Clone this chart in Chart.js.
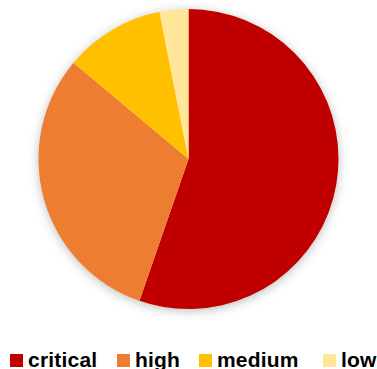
<!DOCTYPE html>
<html>
<head>
<meta charset="utf-8">
<script src="https://cdn.jsdelivr.net/npm/chart.js@4/dist/chart.umd.min.js"></script>
<style>
  html, body { margin: 0; padding: 0; background: #fff; overflow: hidden; }
  #wrap { position: relative; width: 377px; height: 320px; }
  #legend { position: absolute; left: 0; top: 348px; width: 377px; height: 21px; margin: 0; padding: 0;
    font: bold 21px "Liberation Sans", Arial, sans-serif; color: #000; white-space: nowrap; }
  #legend span.item { position: absolute; top: 0; line-height: 24px; letter-spacing: 0.2px; }
  #legend i { display: inline-block; width: 13px; height: 13px; margin-right: 5px; vertical-align: 0; }
</style>
</head>
<body>
<div id="wrap"><canvas id="chart"></canvas></div>
<div id="legend"></div>
<script>
// severity breakdown, percent of findings
const labels = ['critical', 'high', 'medium', 'low']
const values = [55.3, 30.8, 10.8, 3.1]
const colors = ['#C00000', '#ED7D31', '#FFC000', '#FFE699']
const legendX = [10, 117, 199, 323]

// soft drop shadow under the whole pie (not each slice)
const pieShadow = {
  id: 'pieShadow',
  beforeDatasetsDraw(chart) {
    const arc = chart.getDatasetMeta(0).data[0]
    if(!arc) return
    const ctx = chart.ctx
    ctx.save()
    ctx.shadowColor = 'rgba(0,0,0,0.3)'
    ctx.shadowBlur = 12
    ctx.shadowOffsetY = 2
    ctx.fillStyle = '#fff'
    ctx.beginPath()
    ctx.arc(arc.x, arc.y, arc.outerRadius - 1, 0, Math.PI * 2)
    ctx.fill()
    ctx.restore()
  }
}

const chart = new Chart(document.getElementById('chart').getContext('2d'), {
  type: 'pie',
  data: {
    labels,
    datasets: [{ data: values, backgroundColor: colors, borderWidth: 0, hoverOffset: 0 }]
  },
  options: {
    responsive: true,
    maintainAspectRatio: false,
    animation: false,
    layout: { padding: { top: 9, bottom: 11 } },
    plugins: { tooltip: { enabled: false }, legend: { display: false } }
  },
  plugins: [pieShadow]
})

// legend row along the bottom
const lg = document.getElementById('legend')
chart.data.labels.forEach((l, i) => {
  const s = document.createElement('span'); s.className = 'item'; s.style.left = legendX[i] + 'px'
  const b = document.createElement('i'); b.style.background = colors[i]
  s.appendChild(b); s.appendChild(document.createTextNode(l))
  lg.appendChild(s)
})
</script>
</body>
</html>
